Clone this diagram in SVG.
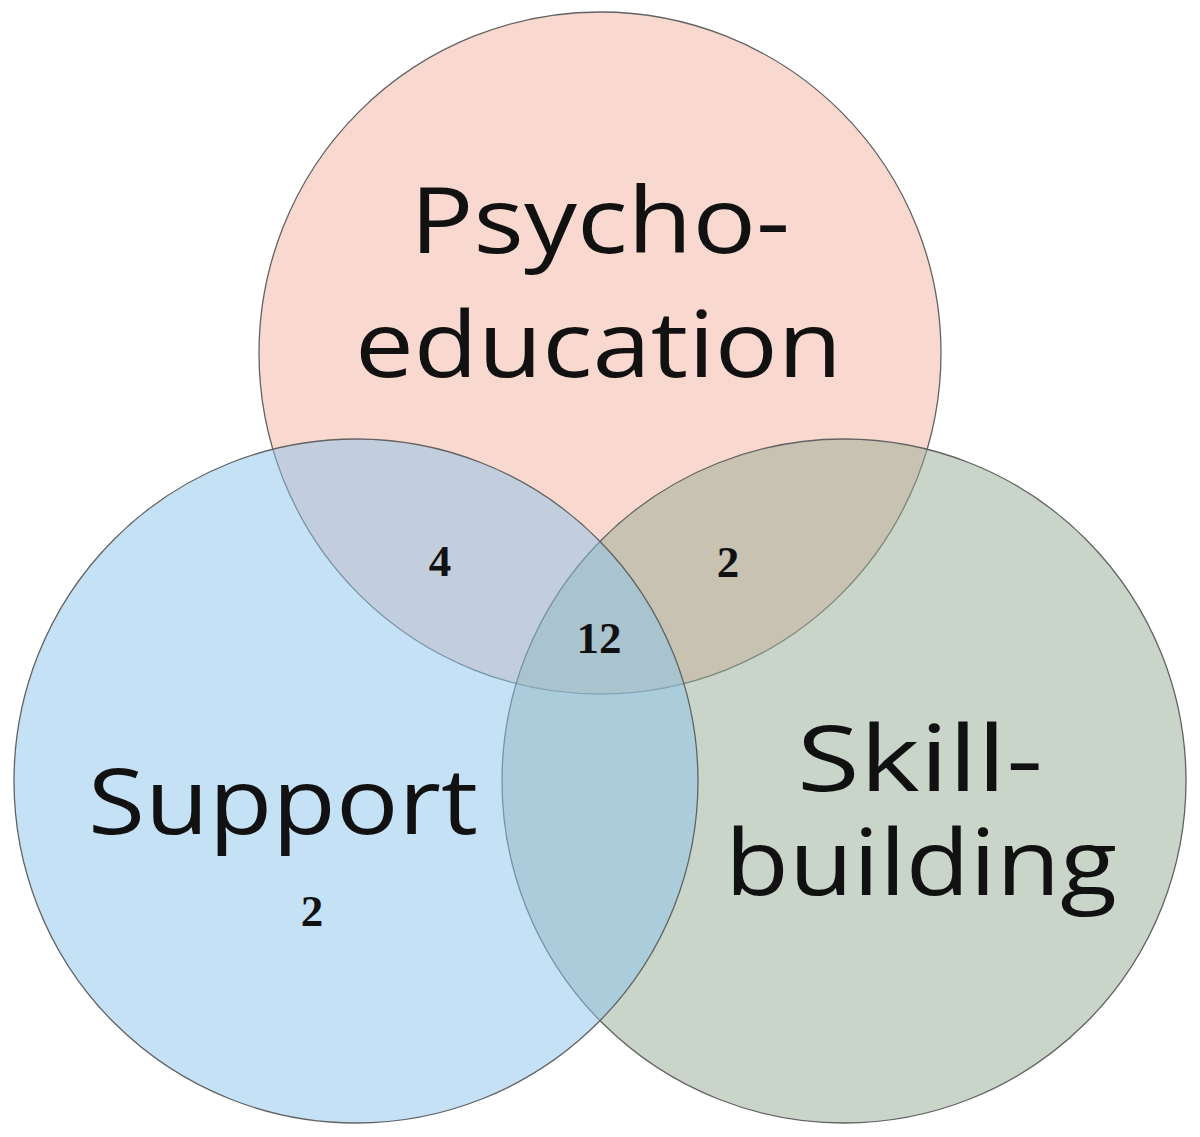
<svg xmlns="http://www.w3.org/2000/svg" width="1200" height="1137" viewBox="0 0 1200 1137">
  <style>
    .circ { stroke: #626262; stroke-width: 1.3; fill-opacity: 0.5; }
    .label { font-family: "Open Sans", "Liberation Sans", sans-serif; font-size: 91px; fill: #111111; }
    .num { font-family: "Liberation Serif", "Times New Roman", serif; font-weight: bold; font-size: 45px; fill: #111111; text-anchor: middle; }
  </style>
  <rect x="0" y="0" width="1200" height="1137" fill="#ffffff"/>
  <g id="psychoeducation">
    <circle class="circ" cx="600" cy="353" r="341" fill="#F3B39F"/>
  </g>
  <g id="skill-building">
    <circle class="circ" cx="844" cy="781" r="342" fill="#95AB95"/>
  </g>
  <g id="support">
    <circle class="circ" cx="356" cy="781" r="342" fill="#8BC3EB"/>
  </g>
  <g id="labels">
    <text class="label" x="410" y="253" textLength="380" lengthAdjust="spacingAndGlyphs">Psycho-</text>
    <text class="label" x="355" y="377" textLength="487" lengthAdjust="spacingAndGlyphs">education</text>
    <text class="label" x="88" y="834" textLength="390" lengthAdjust="spacingAndGlyphs">Support</text>
    <text class="label" x="797" y="791" textLength="246" lengthAdjust="spacingAndGlyphs">Skill-</text>
    <text class="label" x="725" y="895" textLength="392" lengthAdjust="spacingAndGlyphs">building</text>
  </g>
  <g id="counts">
    <text class="num" x="440" y="576">4</text>
    <text class="num" x="728" y="577">2</text>
    <text class="num" x="599" y="653">12</text>
    <text class="num" x="312" y="926">2</text>
  </g>
</svg>
